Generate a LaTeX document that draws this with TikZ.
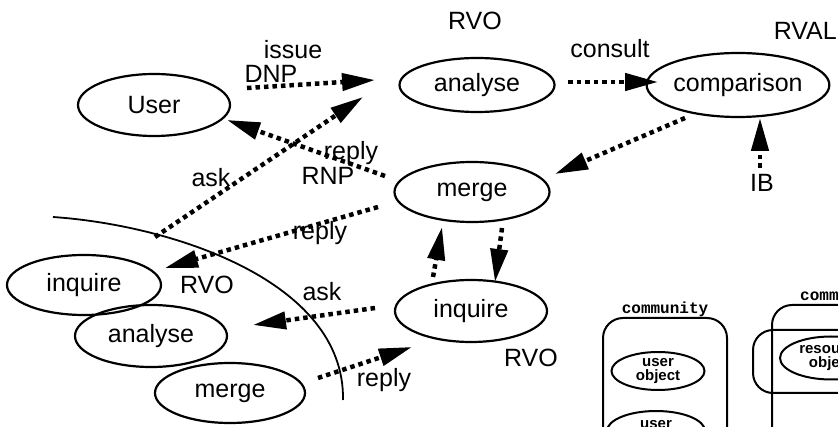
\documentclass[tikz,border=0pt]{standalone}
\usepackage{fontspec}
\setmainfont{Liberation Sans}
\newfontfamily\monofam{Liberation Mono}
\usetikzlibrary{shapes.geometric,arrows.meta}

\tikzset{
  proc/.style={draw, ellipse, line width=2.2pt, inner sep=0pt, font=\fontsize{25}{26}\selectfont},
  lbl/.style={inner sep=0pt, font=\fontsize{25}{26}\selectfont},
  flow/.style={line width=4.5pt, dash pattern=on 4.5pt off 4pt, -{Triangle[length=33pt, width=17pt]}},
  obj/.style={draw, ellipse, line width=2pt, inner sep=0pt, align=center, font=\bfseries\fontsize{15}{14}\selectfont},
  comm/.style={draw, line width=2pt, rounded corners=20pt},
  commtext/.style={inner sep=0pt, font=\monofam\bfseries\fontsize{16}{16}\selectfont}
}

\begin{document}
\begin{tikzpicture}[x=1pt, y=-1pt]
\useasboundingbox (0, 0) rectangle (838, 427);
\begin{scope}
\clip (0, 0) rectangle (838, 427);

% processes
\draw (154, 105) node[proc, minimum width=152pt, minimum height=62pt] (user) {User};
\draw (477, 85) node[proc, minimum width=155pt, minimum height=54pt] (analyse) {analyse};
\draw (738, 85) node[proc, minimum width=143pt, minimum height=64pt] (comparison) {comparison};
\draw (472, 192) node[proc, minimum width=155pt, minimum height=60pt] (merge) {merge};
\draw (471, 311) node[proc, minimum width=152pt, minimum height=62pt] (inquire) {inquire};
\draw (84, 285) node[proc, minimum width=154pt, minimum height=60pt] (inquireB) {inquire};
\draw (151, 336) node[proc, minimum width=152pt, minimum height=62pt] (analyseB) {analyse};
\draw (230, 393) node[proc, minimum width=150pt, minimum height=60pt] (mergeB) {merge};

% labels
\draw (475, 21) node[lbl] (rvoA) {RVO};
\draw (837, 31) node[lbl, anchor=east] (rval) {RVAL};
\draw (531, 358) node[lbl] (rvoB) {RVO};
\draw (207, 285) node[lbl] (rvoC) {RVO};
\draw (293, 50) node[lbl] (issue) {issue};
\draw (271, 74) node[lbl] (dnp) {DNP};
\draw (610, 49) node[lbl] (consult) {consult};
\draw (211, 178) node[lbl] (askA) {ask};
\draw (351, 153) node[lbl] (replyA) {reply};
\draw (328, 176) node[lbl] (rnp) {RNP};
\draw (762, 183) node[lbl] (ib) {IB};
\draw (320, 233) node[lbl] (replyB) {reply};
\draw (322, 292) node[lbl] (askB) {ask};
\draw (384, 380) node[lbl] (replyC) {reply};

% free ends of the flows
\coordinate (dnpS) at (247, 88);
\coordinate (dnpE) at (375, 80);
\coordinate (askS) at (155, 237);
\coordinate (askE) at (363, 97);
\coordinate (rnpS) at (385, 176);
\coordinate (rnpE) at (227, 120);
\coordinate (conS) at (568, 82);
\coordinate (conE) at (658, 82);
\coordinate (cmpS) at (685, 118);
\coordinate (cmpE) at (555, 174);
\coordinate (ibS) at (760, 168);
\coordinate (ibE) at (760, 118);
\coordinate (repS) at (378, 207);
\coordinate (repE) at (165, 268);
\coordinate (upS) at (433, 277);
\coordinate (upE) at (442, 227);
\coordinate (dnS) at (502, 228);
\coordinate (dnE) at (495, 282);
\coordinate (inqS) at (375, 308);
\coordinate (inqE) at (253, 325);
\coordinate (rplS) at (318, 378);
\coordinate (rplE) at (412, 347);

% flows
\draw[flow] (dnpS) -- (dnpE);
\draw[flow] (askS) -- (askE);
\draw[flow] (rnpS) -- (rnpE);
\draw[flow] (conS) -- (conE);
\draw[flow] (cmpS) -- (cmpE);
\draw[flow] (ibS) -- (ibE);
\draw[flow] (repS) -- (repE);
\draw[flow] (upS) -- (upE);
\draw[flow] (dnS) -- (dnE);
\draw[flow] (inqS) -- (inqE);
\draw[flow] (rplS) -- (rplE);

% boundary
\draw[line width=1.8pt] (53, 217) .. controls (170, 225) and (345, 280) .. (343, 400);

% communities
\draw[comm] (603, 480) -- (603, 318) -- (727, 318) -- (727, 480);
\draw (665, 309) node[commtext] (commA) {community};
\draw (658, 371) node[obj, minimum width=93pt, minimum height=38pt] (userobjA) {user\\object};
\draw (656, 431) node[obj, minimum width=98pt, minimum height=40pt, text depth=14pt] (userobjB) {user};
\draw[comm] (772, 480) -- (772, 305) -- (900, 305);
\draw[comm] (900, 330) -- (753, 330) -- (753, 393) -- (900, 393);
\draw (800, 296) node[commtext, anchor=west] (commB) {community};
\draw (831, 358) node[obj, minimum width=102pt, minimum height=43pt] (resobj) {resource\\object};
\end{scope}
\end{tikzpicture}
\end{document}
